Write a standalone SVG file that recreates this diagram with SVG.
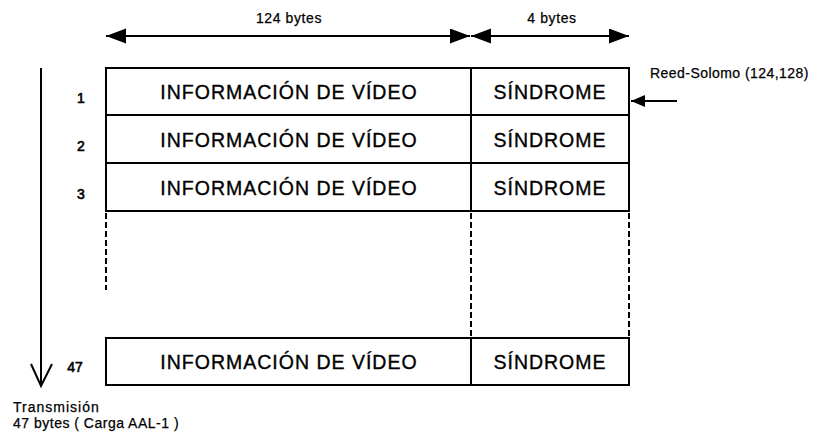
<svg xmlns="http://www.w3.org/2000/svg" width="819" height="433" viewBox="0 0 819 433">
  <style>
    .cell { fill: #fff; stroke: #000; stroke-width: 2; }
    .dash { fill: none; stroke: #000; stroke-width: 2; stroke-dasharray: 6 3; }
    .big { font-family: "Liberation Sans", Arial, sans-serif; font-size: 19.5px; letter-spacing: 1px; text-anchor: middle; fill: #000; stroke: #000; stroke-width: 0.35px; }
    .lbl { font-family: "Liberation Sans", Arial, sans-serif; font-size: 14px; letter-spacing: 0.6px; fill: #000; stroke: #000; stroke-width: 0.25px; }
    .num { font-family: "Liberation Sans", Arial, sans-serif; font-size: 14px; text-anchor: middle; fill: #000; stroke: #000; stroke-width: 0.6px; }
    .line { fill: none; stroke: #000; stroke-width: 2; }
  </style>
  <defs>
    <marker id="head" markerUnits="userSpaceOnUse" markerWidth="22" markerHeight="16" refX="20" refY="7.5" orient="auto-start-reverse">
      <path d="M0,0 L20,7.5 L0,15 Z" fill="#000"/>
    </marker>
    <marker id="headSmall" markerUnits="userSpaceOnUse" markerWidth="16" markerHeight="14" refX="14" refY="6" orient="auto">
      <path d="M0,0 L14,6 L0,12 Z" fill="#000"/>
    </marker>
  </defs>

  <rect width="819" height="433" fill="#fff"/>

  <!-- width labels -->
  <text class="lbl" x="289" y="23" text-anchor="middle">124 bytes</text>
  <text class="lbl" x="552" y="23" text-anchor="middle">4 bytes</text>

  <!-- frame rows -->
  <g id="row-1">
    <rect class="cell" x="106" y="68" width="365" height="47"/>
    <rect class="cell" x="471" y="68" width="158" height="47"/>
    <text class="num" x="81" y="103">1</text>
    <text class="big" x="289" y="99">INFORMACIÓN DE VÍDEO</text>
    <text class="big" x="550" y="99">SÍNDROME</text>
  </g>
  <g id="row-2">
    <rect class="cell" x="106" y="115" width="365" height="48"/>
    <rect class="cell" x="471" y="115" width="158" height="48"/>
    <text class="num" x="81" y="151">2</text>
    <text class="big" x="289" y="147">INFORMACIÓN DE VÍDEO</text>
    <text class="big" x="550" y="147">SÍNDROME</text>
  </g>
  <g id="row-3">
    <rect class="cell" x="106" y="163" width="365" height="48"/>
    <rect class="cell" x="471" y="163" width="158" height="48"/>
    <text class="num" x="81" y="199">3</text>
    <text class="big" x="289" y="195">INFORMACIÓN DE VÍDEO</text>
    <text class="big" x="550" y="195">SÍNDROME</text>
  </g>
  <g id="row-47">
    <rect class="cell" x="106" y="338" width="365" height="47"/>
    <rect class="cell" x="471" y="338" width="158" height="47"/>
    <text class="num" x="75" y="372">47</text>
    <text class="big" x="289" y="369">INFORMACIÓN DE VÍDEO</text>
    <text class="big" x="550" y="369">SÍNDROME</text>
  </g>

  <!-- omitted rows -->
  <g id="gap">
    <line class="dash" x1="106" y1="213" x2="106" y2="290"/>
    <line class="dash" x1="471" y1="213" x2="471" y2="337"/>
    <line class="dash" x1="629" y1="213" x2="629" y2="337"/>
  </g>

  <g id="code-label">
    <text class="lbl" x="650" y="78" style="letter-spacing:0.45px">Reed-Solomo (124,128)</text>
  </g>

  <g id="transmission-label">
    <text class="lbl" x="13" y="412" style="letter-spacing:1px">Transmisión</text>
    <text class="lbl" x="13" y="428" style="letter-spacing:0.5px">47 bytes ( Carga AAL-1 )</text>
  </g>

  <g id="connectors">
    <line class="line" x1="106" y1="36" x2="470" y2="36" marker-start="url(#head)" marker-end="url(#head)"/>
    <line class="line" x1="471" y1="36" x2="629" y2="36" marker-start="url(#head)" marker-end="url(#head)"/>
    <line class="line" x1="677" y1="101" x2="631" y2="101" marker-end="url(#headSmall)"/>
    <line class="line" x1="41" y1="68" x2="41" y2="385"/>
    <polyline class="line" points="31,364 41,386 52,364"/>
  </g>
</svg>
